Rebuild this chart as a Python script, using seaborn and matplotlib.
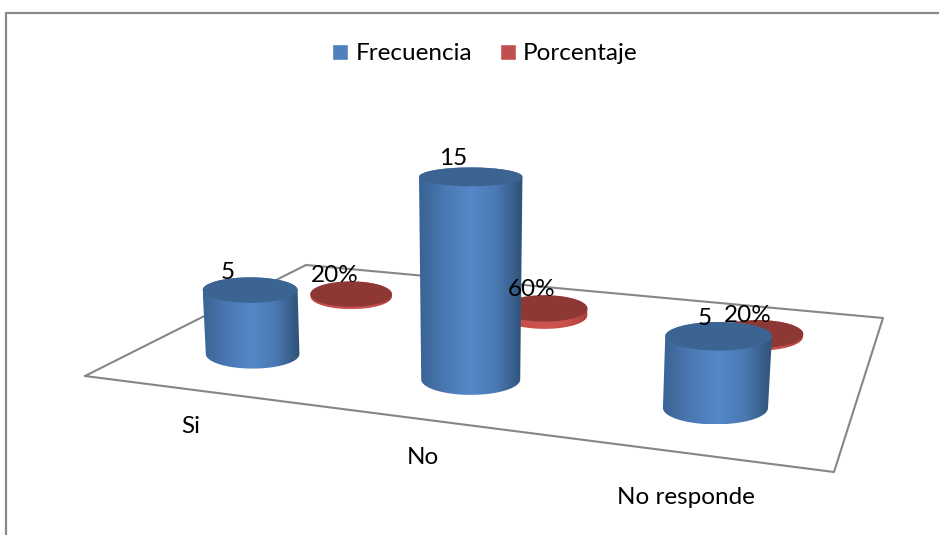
import numpy as np
import matplotlib
matplotlib.use('Agg')
import matplotlib.pyplot as plt
from matplotlib.patches import Ellipse, Patch, Polygon
import seaborn as sns

# data
categorias = ['Si', 'No', 'No responde']
frecuencia = [5, 15, 5]
porcentaje = [0.20, 0.60, 0.20]
etiq_frec = ['5', '15', '5']
etiq_porc = ['20%', '60%', '20%']

sns.set_theme(style='white')
plt.rcParams['font.family'] = ['Lato', 'DejaVu Sans']

fig, ax = plt.subplots(figsize=(9.39, 5.35), dpi=100)
ax.set_position([0, 0, 1, 1])
ax.axis('off')

# floor of the 3d chart, pixel corners of the picture
esquinas = np.array([[85, 376], [834, 472], [883, 318], [306, 265]], dtype=float)
plano = np.array([[0, 0], [3, 0], [3, 2], [0, 2]], dtype=float)


def homografia(src, dst):
    filas = []
    for (a, b), (x, y) in zip(src, dst):
        filas.append([a, b, 1, 0, 0, 0, -a * x, -b * x, -x])
        filas.append([0, 0, 0, a, b, 1, -a * y, -b * y, -y])
    return np.linalg.svd(np.array(filas))[2][-1].reshape(3, 3)


H = homografia(plano, esquinas)


def piso(u, v):
    p = H @ np.array([u, v, 1.0])
    return p[0] / p[2], p[1] / p[2], 1 / p[2]


_, _, escala_ref = piso(1.5, 0.5)

azules = sns.blend_palette(['#3a6394', '#4a78b3', '#5588c9', '#4a78b2', '#2e5277'], 256)
rojos = sns.blend_palette(['#b5453f', '#c9504b', '#cc5550', '#c9504b', '#a83f3b'], 256)


def cilindro(u, v, valor, colores, tapa, orden):
    x0, y0, s = piso(u, v)
    s = s / escala_ref
    rx = 49.5 * s
    ry = 15.5 * s
    h = valor * 13.5 * s
    # sides lean a little away from the centre of the picture
    x1 = x0 + (x0 - 470) * h * 0.00018
    y1 = y0 - h
    rx1 = rx * (1 + 0.00022 * h)
    ry1 = ry - 0.03 * h
    t = np.linspace(0, np.pi, 60)
    abajo = np.column_stack([x0 + rx * np.cos(t), y0 + ry * np.sin(t)])
    arriba = np.column_stack([x1 - rx1 * np.cos(t), y1 - ry1 * np.sin(t)])
    cuerpo = Polygon(np.vstack([abajo, arriba]), closed=True, fc='none', ec='none', transform=ax.transData)
    ax.add_patch(cuerpo)
    izq, der = min(x0 - rx, x1 - rx1), max(x0 + rx, x1 + rx1)
    img = ax.imshow(np.array(colores)[None, :, :], extent=[izq, der, y0 + ry, y1 - ry1],
                    aspect='auto', interpolation='bilinear', zorder=orden)
    img.set_clip_path(cuerpo)
    ax.add_patch(Ellipse((x1, y1), 2 * rx1, 2 * ry1, fc=tapa, ec='none', zorder=orden + 0.1))
    return x1, y1


# border of the chart area, runs off the picture on two sides
sns.lineplot(x=[6, 6, 939], y=[535, 13, 13], sort=False, estimator=None, color='#8a8a8a', linewidth=1.6, ax=ax)
borde = np.vstack([esquinas, esquinas[:1]])
sns.lineplot(x=borde[:, 0], y=borde[:, 1], sort=False, estimator=None, color='#868686', linewidth=1.5, ax=ax)

# back row first, front row over it
n = len(categorias)
tops_p = [cilindro(i + 0.5, 1.5, porcentaje[i], rojos, '#8e3836', 3 + i) for i in range(n)]
tops_f = [cilindro(i + 0.5, 0.5, frecuencia[i], azules, '#3c6492', 8 + i) for i in range(n)]

ax.set_xlim(0, 939)
ax.set_ylim(535, 0)

fs = 17.5
for i, ((x, y), txt) in enumerate(zip(tops_f, etiq_frec)):
    ax.text(x - 22 + 4 * i, y - 18, txt, fontsize=fs, color='black', ha='center', va='center', zorder=20)
for i, ((x, y), txt) in enumerate(zip(tops_p, etiq_porc)):
    ax.text(x - 16 + 3 * i, y - 19, txt, fontsize=fs, color='black', ha='center', va='center', zorder=20)

for i, cat in enumerate(categorias):
    x, y, _ = piso(0.6 + 0.96 * i, -0.2)
    ax.text(x + 4, y + 18 + (5 if i == 2 else 0), cat, fontsize=fs, color='black', ha='center', va='center', zorder=20)

marcas = [Patch(fc='#4f81bd', label='Frecuencia'), Patch(fc='#c0504d', label='Porcentaje')]
ax.legend(handles=marcas, ncol=2, loc='center', bbox_to_anchor=(485 / 939, 1 - 54 / 535), frameon=False,
          fontsize=fs, handlelength=0.65, handleheight=0.65, handletextpad=0.3, columnspacing=1.15,
          borderpad=0, labelcolor='black')

fig.savefig('out.png', dpi=100)
